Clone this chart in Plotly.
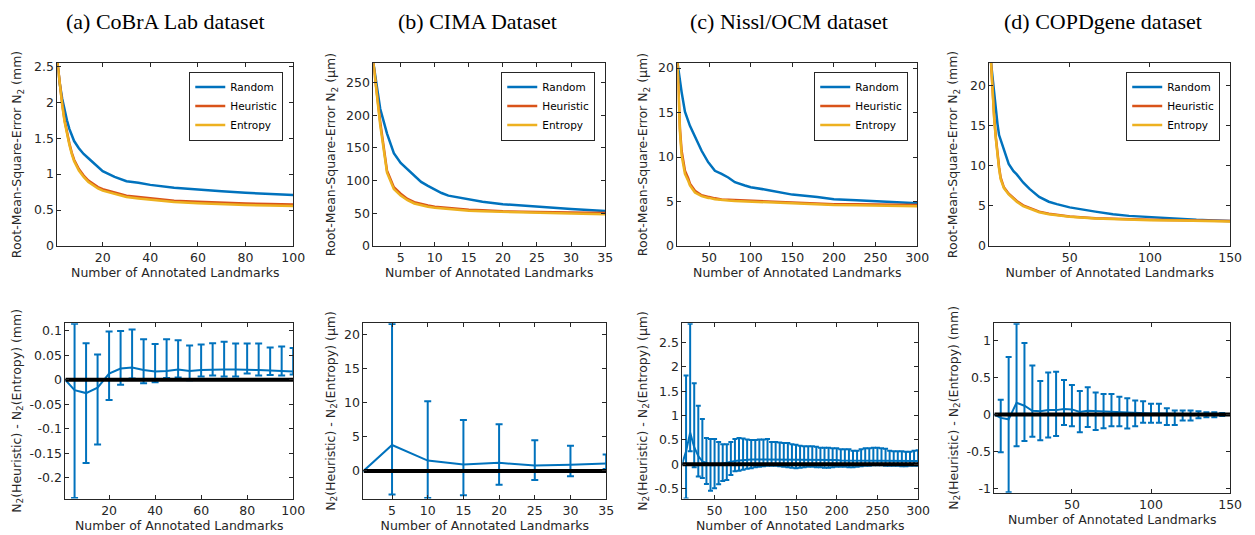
import plotly.graph_objects as go

W, H = 1255, 535
BLUE = '#0072BD'; ORANGE = '#D95319'; YELLOW = '#EDB120'; AX = '#262626'
TICKFONT = dict(family='DejaVu Sans', size=12.5, color=AX)

# ---------------- top row data (RMSE curves) ----------------
a_x = [1, 2, 3, 4, 5, 6, 7, 8, 10, 12, 14, 16, 18, 20, 25, 30, 35, 40, 50, 60, 70, 80, 90, 100]
a_random = [2.55, 2.25, 2.05, 1.88, 1.75, 1.63, 1.53, 1.46, 1.36, 1.28, 1.22, 1.16, 1.09, 1.04, 0.96, 0.90, 0.88, 0.85, 0.81, 0.78, 0.76, 0.74, 0.725, 0.71]
a_heur = [2.55, 2.25, 1.98, 1.75, 1.57, 1.43, 1.30, 1.20, 1.07, 0.98, 0.91, 0.86, 0.82, 0.79, 0.74, 0.70, 0.68, 0.66, 0.63, 0.615, 0.60, 0.59, 0.583, 0.577]
a_entr = [2.55, 2.24, 1.96, 1.73, 1.55, 1.41, 1.28, 1.18, 1.05, 0.96, 0.89, 0.84, 0.80, 0.77, 0.72, 0.68, 0.66, 0.64, 0.61, 0.595, 0.58, 0.57, 0.562, 0.556]

b_x = [1, 2, 3, 4, 5, 6, 7, 8, 9, 10, 11, 12, 13, 15, 17, 20, 25, 30, 35]
b_random = [280, 210, 172, 142, 127, 117, 107, 98, 92, 86, 81, 77, 75, 71, 67.5, 64, 60, 56.5, 53.5]
b_heur = [280, 190, 115, 90, 80, 72, 67, 64, 62, 60, 59, 58, 57, 55.5, 54.5, 53, 52, 51, 50.5]
b_entr = [280, 185, 112, 87, 77, 70, 65, 62, 60, 58.5, 57.5, 56.5, 55.5, 54, 53, 52, 50.5, 49.5, 48.5]

c_x = [12, 15, 17, 21, 25, 27, 33, 41, 49, 50, 57, 61, 65, 73, 81, 93, 100, 120, 140, 150, 180, 200, 227, 250, 275, 300]
c_random = [20.6, 18.5, 17.3, 15.1, 14.0, 13.5, 12.3, 10.7, 9.4, 9.3, 8.45, 8.3, 8.1, 7.7, 7.17, 6.8, 6.6, 6.3, 5.97, 5.77, 5.5, 5.25, 5.15, 5.03, 4.9, 4.8]
c_heur = [20.6, 13.2, 10.7, 8.45, 7.6, 7.0, 6.2, 5.7, 5.5, 5.5, 5.35, 5.25, 5.22, 5.18, 5.15, 5.08, 5.03, 4.96, 4.9, 4.85, 4.77, 4.7, 4.68, 4.67, 4.63, 4.6]
c_entr = [20.6, 12.8, 10.2, 8.1, 7.3, 6.8, 6.0, 5.6, 5.4, 5.4, 5.25, 5.2, 5.15, 5.1, 5.05, 5.0, 4.95, 4.88, 4.8, 4.75, 4.67, 4.6, 4.57, 4.55, 4.5, 4.45]

d_x = [1, 2, 3, 4, 5, 6, 7, 9, 12, 15, 17, 21, 23, 25, 31, 37, 42, 46, 50, 66, 77, 87, 100, 119, 129, 140, 150]
d_random = [22.8, 20.7, 18.5, 16.7, 15.2, 13.8, 13.2, 12.2, 10.2, 9.3, 8.9, 7.9, 7.5, 7.1, 6.1, 5.5, 5.2, 5.0, 4.8, 4.27, 3.94, 3.74, 3.58, 3.33, 3.25, 3.17, 3.1]
d_heur = [22.8, 19.0, 15.9, 13.5, 11.4, 9.8, 8.5, 7.3, 6.5, 5.9, 5.6, 5.05, 4.9, 4.7, 4.27, 4.0, 3.86, 3.75, 3.66, 3.46, 3.38, 3.33, 3.25, 3.2, 3.17, 3.12, 3.09]
d_entr = [22.8, 18.8, 15.7, 13.3, 11.2, 9.6, 8.3, 7.2, 6.4, 5.8, 5.5, 4.95, 4.8, 4.62, 4.2, 3.95, 3.82, 3.7, 3.62, 3.42, 3.34, 3.28, 3.2, 3.15, 3.12, 3.08, 3.05]

# ---------------- bottom row data (difference with error bars) ----------------
ea_x = [1, 5, 10, 15, 20, 25, 30, 35, 40, 45, 50, 55, 60, 65, 70, 75, 80, 85, 90, 95, 100]
ea_val = [0, -0.021, -0.027, -0.016, 0.013, 0.023, 0.025, 0.020, 0.017, 0.018, 0.021, 0.018, 0.020, 0.021, 0.021, 0.021, 0.021, 0.020, 0.019, 0.018, 0.017]
ea_up = [0, 0.1145, 0.075, 0.052, 0.099, 0.100, 0.103, 0.083, 0.073, 0.083, 0.081, 0.070, 0.072, 0.075, 0.078, 0.074, 0.074, 0.074, 0.066, 0.068, 0.065]
ea_lo = [0, -0.241, -0.170, -0.132, -0.041, -0.010, 0.003, -0.007, -0.005, 0.004, 0.005, -0.001, 0.007, 0.009, 0.007, 0.007, 0.013, 0.009, 0.010, 0.009, 0.011]

eb_x = [1, 5, 10, 15, 20, 25, 30, 35]
eb_val = [0, 3.8, 1.52, 0.95, 1.19, 0.81, 0.90, 1.09]
eb_up = [0, 21.5, 10.2, 7.46, 6.84, 4.5, 3.7, 2.42]
eb_lo = [0, -3.42, -3.95, -3.56, -2.0, -1.33, -0.76, 0.28]

ec_x = [10, 15, 20, 25, 30, 35, 40, 45, 50, 55, 60, 65, 70, 75, 80, 85, 90, 95, 100,
        105, 110, 115, 120, 125, 130, 135, 140, 145, 150, 155, 160, 165, 170, 175, 180,
        185, 190, 195, 200, 205, 210, 215, 220, 225, 230, 235, 240, 245, 250, 255, 260,
        265, 270, 275, 280, 285, 290, 295, 300]
ec_val = [0, 0.27, 0.65, 0.35, 0.17, 0.06, 0.03, -0.02, -0.02, 0.0, 0.02, 0.03, 0.05, 0.07, 0.08, 0.09, 0.09, 0.10, 0.10,
          0.10, 0.10, 0.10, 0.10, 0.10, 0.10, 0.10, 0.10, 0.10, 0.10, 0.09, 0.09, 0.09, 0.09, 0.09, 0.09,
          0.09, 0.09, 0.09, 0.09, 0.08, 0.08, 0.08, 0.08, 0.08, 0.08, 0.08, 0.08, 0.08, 0.08, 0.07, 0.07,
          0.07, 0.07, 0.07, 0.07, 0.07, 0.07, 0.07, 0.07]
ec_up = [0, 1.82, 2.88, 1.66, 1.20, 0.93, 0.54, 0.52, 0.52, 0.46, 0.41, 0.41, 0.46, 0.52, 0.54, 0.53, 0.51, 0.50, 0.50,
         0.51, 0.51, 0.52, 0.46, 0.46, 0.45, 0.44, 0.44, 0.41, 0.40, 0.38, 0.37, 0.37, 0.37, 0.36, 0.34,
         0.34, 0.34, 0.33, 0.33, 0.31, 0.31, 0.31, 0.28, 0.28, 0.31, 0.33, 0.33, 0.34, 0.34, 0.33, 0.32,
         0.28, 0.27, 0.27, 0.27, 0.26, 0.26, 0.28, 0.29]
ec_lo = [0, -0.70, 0.27, -0.06, -0.25, -0.28, -0.40, -0.54, -0.49, -0.41, -0.34, -0.32, -0.22, -0.14, -0.13, -0.11, -0.09, -0.08, -0.06,
         -0.05, -0.04, -0.03, -0.03, -0.03, -0.04, -0.05, -0.06, -0.07, -0.08, -0.07, -0.06, -0.05, -0.05, -0.06, -0.06,
         -0.07, -0.07, -0.06, -0.05, -0.05, -0.05, -0.06, -0.06, -0.05, -0.04, -0.03, -0.03, -0.02, -0.02, -0.02, -0.03,
         -0.03, -0.03, -0.03, -0.04, -0.04, -0.03, -0.03, -0.03]

ed_x = [1, 5, 10, 15, 20, 25, 30, 35, 40, 45, 50, 55, 60, 65, 70, 75, 80, 85, 90, 95, 100,
        105, 110, 115, 120, 125, 130, 135, 140, 145, 150]
ed_val = [0, -0.045, -0.065, 0.16, 0.12, 0.05, 0.045, 0.06, 0.06, 0.075, 0.07, 0.035, 0.05, 0.045, 0.035, 0.035, 0.035, 0.025, 0.02, 0.02, 0.015,
          0.015, 0.01, 0.01, 0.008, 0.006, 0.005, 0.003, 0.002, 0.001, 0]
ed_up = [0, 0.20, 0.78, 1.23, 0.97, 0.665, 0.455, 0.57, 0.58, 0.47, 0.40, 0.32, 0.37, 0.30, 0.28, 0.28, 0.24, 0.22, 0.19, 0.18, 0.145,
         0.145, 0.085, 0.055, 0.055, 0.055, 0.045, 0.03, 0.03, 0.02, 0]
ed_lo = [0, -0.51, -1.055, -0.43, -0.36, -0.30, -0.35, -0.31, -0.29, -0.14, -0.16, -0.24, -0.17, -0.21, -0.185, -0.16, -0.16, -0.19, -0.16, -0.11, -0.11,
         -0.11, -0.14, -0.14, -0.08, -0.08, -0.05, -0.035, -0.035, -0.02, 0]

titles = ['(a) CoBrA Lab dataset', '(b) CIMA Dataset', '(c) Nissl/OCM dataset', '(d) COPDgene dataset']
units = ['mm', '\u03bcm', '\u03bcm', 'mm']
series_names = ['Random', 'Heuristic', 'Entropy']

top_data = [(a_x, a_random, a_heur, a_entr), (b_x, b_random, b_heur, b_entr),
            (c_x, c_random, c_heur, c_entr), (d_x, d_random, d_heur, d_entr)]
bot_data = [(ea_x, ea_val, ea_up, ea_lo), (eb_x, eb_val, eb_up, eb_lo),
            (ec_x, ec_val, ec_up, ec_lo), (ed_x, ed_val, ed_up, ed_lo)]

# tick definitions
top_xticks = [[20, 40, 60, 80, 100], [5, 10, 15, 20, 25, 30, 35], [50, 100, 150, 200, 250, 300], [50, 100, 150]]
top_yticks = [([0, 0.5, 1, 1.5, 2, 2.5], ['0', '0.5', '1', '1.5', '2', '2.5']),
              ([0, 50, 100, 150, 200, 250], ['0', '50', '100', '150', '200', '250']),
              ([0, 5, 10, 15, 20], ['0', '5', '10', '15', '20']),
              ([0, 5, 10, 15, 20], ['0', '5', '10', '15', '20'])]
bot_yticks = [([-0.2, -0.15, -0.1, -0.05, 0, 0.05, 0.1], ['-0.2', '-0.15', '-0.1', '-0.05', '0', '0.05', '0.1']),
              ([0, 5, 10, 15, 20], ['0', '5', '10', '15', '20']),
              ([-0.5, 0, 0.5, 1, 1.5, 2, 2.5], ['-0.5', '0', '0.5', '1', '1.5', '2', '2.5']),
              ([-1, -0.5, 0, 0.5, 1], ['-1', '-0.5', '0', '0.5', '1'])]

# layout geometry (pixels)
top_xdom = [(58, 296), (377, 611), (684, 926), (999, 1242)]
bot_xdom = [(66, 296), (367, 612), (689, 927), (1004, 1242)]
top_ydom = [(60, 247)] * 4
bot_ydom = [(326, 505), (326, 505), (326, 505), (326, 499)]
top_xrange = [[1, 100], [1, 35], [12, 300], [0, 150]]
top_yrange = [[0, 2.55], [0, 280.5], [0, 20.6], [0, 22.8]]
bot_xrange = [[1, 100], [1, 35], [10.5, 300], [1, 150]]
bot_yrange = [[-0.2425, 0.1155], [-4.04, 21.6], [-0.702, 2.89], [-1.06, 1.237]]
ylabel_x = [18, 335, 650, 963]
title_x = [167, 482, 797, 1114]
legend_right = [286, 601, 917, 1232]
cap_w = [3.5, 3.5, 2.5, 3]

def fx(a, b):
    return [a / W, b / W]

def fy(top, bottom):
    return [1 - bottom / H, 1 - top / H]

fig = go.Figure()
layout = dict(width=W, height=H, margin=dict(l=0, r=0, t=0, b=0),
              paper_bgcolor='white', plot_bgcolor='white', annotations=[])

def axis_common():
    return dict(ticks='inside', ticklen=4, tickwidth=1, tickcolor=AX, showline=True, linecolor=AX,
                linewidth=1, mirror='ticks', showgrid=False, zeroline=False, tickfont=TICKFONT)

for i in range(4):
    # top axes
    n = i + 1
    sfx = '' if n == 1 else str(n)
    xs, r, h, e = top_data[i]
    leg = 'legend' if i == 0 else 'legend%d' % (i + 1)
    for name, ys, col in zip(series_names, (r, h, e), (BLUE, ORANGE, YELLOW)):
        fig.add_trace(go.Scatter(x=xs, y=ys, mode='lines', name=name, line=dict(color=col, width=2.5),
                                 xaxis='x' + sfx, yaxis='y' + sfx, legend=leg))
    xa = axis_common()
    xa.update(domain=fx(*top_xdom[i]), range=top_xrange[i], anchor='y' + sfx,
              tickvals=top_xticks[i], ticktext=[str(v) for v in top_xticks[i]],
              title=dict(text='Number of Annotated Landmarks', font=TICKFONT, standoff=0))
    ya = axis_common()
    ya.update(domain=fy(*top_ydom[i]), range=top_yrange[i], anchor='x' + sfx,
              tickvals=top_yticks[i][0], ticktext=top_yticks[i][1])
    layout['xaxis' + sfx] = xa
    layout['yaxis' + sfx] = ya
    layout[leg] = dict(x=legend_right[i] / W, y=1 - 69 / H, xanchor='right', yanchor='top',
                       bgcolor='white', bordercolor=AX, borderwidth=1, itemwidth=30,
                       font=dict(family='DejaVu Sans', size=10.5, color='black'))

    # bottom axes
    m = i + 5
    sfx2 = str(m)
    bx, bv, bu, bl = bot_data[i]
    fig.add_trace(go.Scatter(x=bx, y=bv, mode='lines', line=dict(color=BLUE, width=2),
                             error_y=dict(type='data', symmetric=False,
                                          array=[u - v for u, v in zip(bu, bv)],
                                          arrayminus=[v - l for v, l in zip(bv, bl)],
                                          color=BLUE, thickness=2, width=cap_w[i]),
                             xaxis='x' + sfx2, yaxis='y' + sfx2, showlegend=False))
    fig.add_trace(go.Scatter(x=[bx[0], bx[-1]], y=[0, 0], mode='lines', line=dict(color='black', width=4),
                             xaxis='x' + sfx2, yaxis='y' + sfx2, showlegend=False))
    bxt = top_xticks[i]
    xa = axis_common()
    xa.update(domain=fx(*bot_xdom[i]), range=bot_xrange[i], anchor='y' + sfx2,
              tickvals=bxt, ticktext=[str(v) for v in bxt],
              title=dict(text='Number of Annotated Landmarks', font=TICKFONT, standoff=0))
    ya = axis_common()
    ya.update(domain=fy(*bot_ydom[i]), range=bot_yrange[i], anchor='x' + sfx2,
              tickvals=bot_yticks[i][0], ticktext=bot_yticks[i][1])
    layout['xaxis' + sfx2] = xa
    layout['yaxis' + sfx2] = ya

    # titles and y labels
    layout['annotations'].append(dict(text=titles[i], x=title_x[i] / W, y=1 - 18 / H, xref='paper', yref='paper',
                                      xanchor='center', yanchor='middle', showarrow=False,
                                      font=dict(family='Liberation Serif', size=22, color='black')))
    ty = (top_ydom[i][0] + top_ydom[i][1]) / 2
    layout['annotations'].append(dict(text='Root-Mean-Square-Error N<sub>2</sub> (%s)' % units[i],
                                      x=ylabel_x[i] / W, y=1 - ty / H, xref='paper', yref='paper',
                                      xanchor='center', yanchor='middle', textangle=-90, showarrow=False,
                                      font=TICKFONT))
    by = (bot_ydom[i][0] + bot_ydom[i][1]) / 2
    layout['annotations'].append(dict(text='N<sub>2</sub>(Heuristic) - N<sub>2</sub>(Entropy) (%s)' % units[i],
                                      x=ylabel_x[i] / W, y=1 - by / H, xref='paper', yref='paper',
                                      xanchor='center', yanchor='middle', textangle=-90, showarrow=False,
                                      font=TICKFONT))

fig.update_layout(**layout)
fig.write_html('out.html')
